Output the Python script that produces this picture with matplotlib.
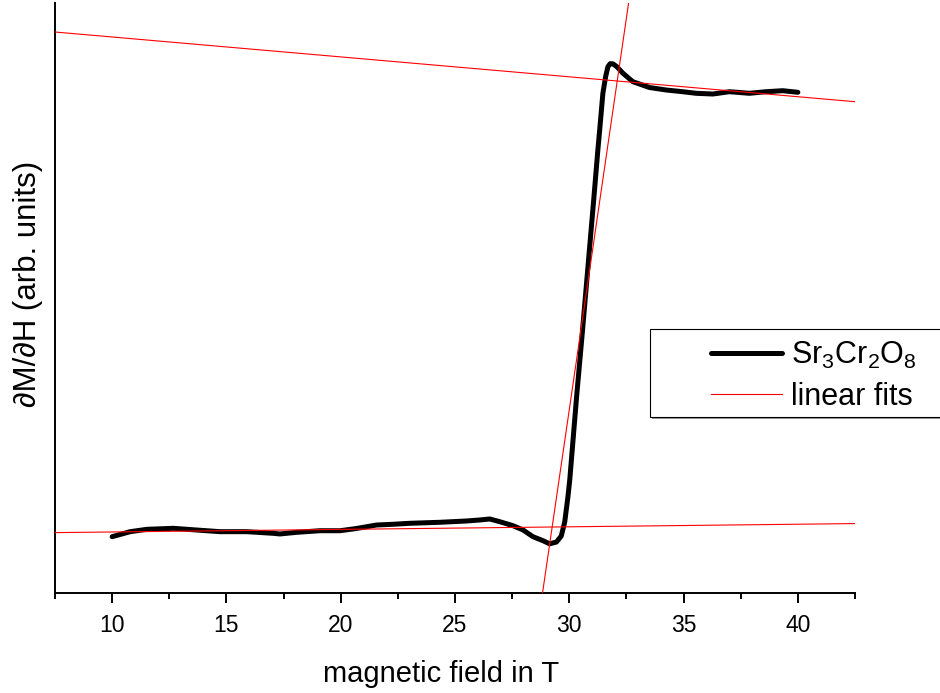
import matplotlib
matplotlib.use("Agg")
import matplotlib.pyplot as plt
from matplotlib.ticker import MultipleLocator, NullLocator
from matplotlib.patches import Rectangle
import numpy as np

plt.rcParams['font.family'] = ['Liberation Sans', 'DejaVu Sans']
plt.rcParams['mathtext.default'] = 'regular'

# measured dM/dH curve (field in T, arb. units)
field = [10.0, 10.79, 11.52, 12.68, 13.70, 14.72, 15.89, 17.05, 17.34, 18.07,
         19.09, 19.97, 20.69, 21.57, 22.28, 23.02, 24.34, 25.50, 26.08, 26.52,
         26.96, 27.54, 27.98, 28.41, 28.85, 29.14, 29.44, 29.65, 29.80, 29.94,
         30.02, 30.14, 30.32, 30.58, 30.83, 31.08, 31.25, 31.33, 31.47, 31.59,
         31.69, 31.79, 31.91, 32.08, 32.35, 32.78, 33.51, 34.24, 34.96, 35.55,
         36.28, 37.01, 37.88, 38.61, 39.34, 40.0]
dmdh = [9.46, 10.31, 10.71, 10.88, 10.59, 10.31, 10.31, 10.03, 9.92, 10.20,
        10.47, 10.47, 10.85, 11.44, 11.56, 11.73, 11.90, 12.12, 12.29, 12.46,
        12.00, 11.32, 10.59, 9.46, 8.78, 8.25, 8.56, 9.58, 11.95, 16.19,
        19.07, 24.71, 33.19, 44.49, 55.80, 67.08, 75.0, 78.39, 84.61, 87.42,
        89.12, 89.63, 89.60, 89.12, 88.0, 86.58, 85.59, 85.17, 84.88, 84.61,
        84.49, 84.88, 84.61, 84.88, 85.05, 84.78]

# linear fits: (slope, intercept)
fit_slopes = [0.0438, -0.3375, 26.56]
fit_intercepts = [9.82, 97.53, -765.8]

xticks = [10, 15, 20, 25, 30, 35, 40]
xlim = (7.5, 42.5)
ylim = (0, 100)

W, H = 940, 693
fig = plt.figure(figsize=(W / 100, H / 100), dpi=100)
ax = fig.add_axes([55 / W, (H - 592.5) / H, 800 / W, 590 / H])

xs = np.array(xlim)
for i, (m, b) in enumerate(zip(fit_slopes, fit_intercepts)):
    ax.plot(xs, m * xs + b, color='#ff0000', lw=0.8,
            label='linear fits' if i == 0 else None, zorder=3)
ax.plot(field, dmdh, color='black', lw=3.6, solid_capstyle='round',
        solid_joinstyle='round', label=r'Sr$_3$Cr$_2$O$_8$', zorder=2)

ax.set_xlim(*xlim)
ax.set_ylim(*ylim)
ax.set_xticks(xticks)
ax.xaxis.set_minor_locator(MultipleLocator(2.5))
ax.yaxis.set_major_locator(NullLocator())
ax.yaxis.set_minor_locator(NullLocator())
for s in ['top', 'right']:
    ax.spines[s].set_visible(False)
for s in ['left', 'bottom']:
    ax.spines[s].set_linewidth(1.4)
ax.tick_params(axis='x', which='major', length=7.5, width=1.4, direction='out',
               labelsize=16.5, pad=8)
ax.tick_params(axis='x', which='minor', length=4, width=1.4, direction='out')

ax.set_xlabel('magnetic field in T', fontsize=21, va='baseline')
ax.xaxis.set_label_coords((441 - 55) / 800, (592.5 - 682) / 590)
fig.text(28.5 / W, 1 - 284 / H, '\u2202M/\u2202H (arb. units)', rotation=90,
         ha='center', va='center', fontsize=22.5)

# legend frame (extends past right edge)
ax.add_patch(Rectangle((652 / W, (H - 419) / H), 300 / W, 88 / H,
                       transform=fig.transFigure, facecolor='#999999',
                       edgecolor='none', zorder=4, clip_on=False))
ax.add_patch(Rectangle((650 / W, (H - 417) / H), 300 / W, 88 / H,
                       transform=fig.transFigure, facecolor='white',
                       edgecolor='black', lw=0.8, zorder=5, clip_on=False))
handles, labels = ax.get_legend_handles_labels()
order = [1, 0]
leg = ax.legend([handles[i] for i in order], [labels[i] for i in order],
                loc='center left', bbox_to_anchor=(711 / W, 1 - 376 / H),
                bbox_transform=fig.transFigure, frameon=False, fontsize=22,
                borderpad=0, handlelength=2.32, handletextpad=0.3,
                labelspacing=0.35, borderaxespad=0)
leg.set_zorder(6)

fig.savefig('out.png', dpi=100)
